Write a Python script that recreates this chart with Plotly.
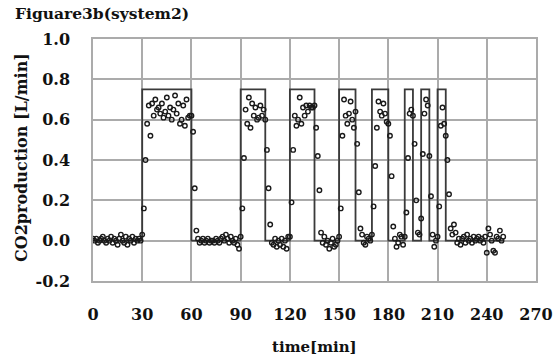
import plotly.graph_objects as go

# Measured CO2 production (time in min, value in L/min)
time_min = list(range(0, 251))
co2_values = [
    # 0-29 baseline
    0.01, 0.00, 0.01, -0.01, 0.00, 0.01, 0.02, 0.00, -0.01, 0.01,
    0.00, 0.02, -0.01, 0.01, 0.00, -0.02, 0.01, 0.03, 0.00, -0.01,
    0.02, -0.02, 0.01, 0.00, 0.02, -0.01, 0.01, 0.00, 0.01, 0.00,
    # 30-63 pulse 1
    0.03, 0.16, 0.40, 0.58, 0.67, 0.52, 0.68, 0.62, 0.70, 0.65,
    0.66, 0.63, 0.68, 0.61, 0.64, 0.71, 0.62, 0.66, 0.60, 0.65,
    0.72, 0.63, 0.68, 0.58, 0.60, 0.67, 0.57, 0.70, 0.61, 0.62,
    0.62, 0.54, 0.26, 0.05,
    # 64-89 baseline
    0.01, -0.01, 0.00, 0.01, -0.01, 0.00, 0.01, -0.01, 0.00, 0.00,
    -0.01, 0.01, 0.00, -0.01, 0.01, 0.02, 0.00, 0.03, 0.01, -0.01,
    0.02, 0.00, -0.01, 0.01, -0.02, -0.04,
    # 90-108 pulse 2
    0.02, 0.16, 0.41, 0.65, 0.58, 0.71, 0.56, 0.68, 0.62, 0.66,
    0.60, 0.61, 0.67, 0.62, 0.65, 0.60, 0.45, 0.26, 0.08,
    # 109-119 baseline
    -0.01, -0.02, 0.01, -0.03, 0.00, -0.02, 0.01, -0.03, 0.00, -0.04, 0.02,
    # 120-139 pulse 3
    0.02, 0.19, 0.45, 0.62, 0.57, 0.60, 0.71, 0.58, 0.66, 0.62,
    0.67, 0.64, 0.67, 0.66, 0.66, 0.67, 0.56, 0.42, 0.25, 0.04,
    # 140-149 baseline
    -0.01, 0.02, -0.02, 0.00, -0.04, -0.01, 0.01, -0.03, -0.02, 0.00,
    # 150-163 pulse 4
    0.02, 0.16, 0.52, 0.70, 0.62, 0.58, 0.63, 0.69, 0.60, 0.56,
    0.64, 0.48, 0.24, 0.06,
    # 164-169 baseline
    0.03, -0.01, -0.02, 0.02, 0.01, 0.00,
    # 170-183 pulse 5
    0.03, 0.17, 0.37, 0.56, 0.69, 0.64, 0.62, 0.68, 0.63, 0.59,
    0.58, 0.52, 0.32, 0.07,
    # 184-189 baseline
    0.01, -0.03, -0.01, 0.03, 0.02, -0.02,
    # 190-199 pulse 6
    0.02, 0.14, 0.41, 0.63, 0.65, 0.62, 0.48, 0.20, 0.04, 0.03,
    # 200-209 pulse 7
    0.11, 0.43, 0.63, 0.70, 0.67, 0.42, 0.22, 0.03, -0.03, 0.00,
    # 210-219 pulse 8
    0.02, 0.17, 0.57, 0.66, 0.58, 0.52, 0.40, 0.23, 0.06, 0.03,
    # 220-250 baseline
    0.08, 0.04, -0.01, 0.01, -0.02, 0.01, 0.02, -0.01, 0.03, 0.00,
    0.01, -0.01, 0.02, 0.00, 0.01, 0.02, 0.00, 0.01, -0.01, 0.02,
    -0.06, 0.06, 0.03, 0.00, -0.05, -0.06, 0.02, 0.01, 0.05, 0.00, 0.02,
]

# Feed pulse schedule (square wave)
pulse_start = [30, 90, 120, 150, 170, 190, 200, 210]
pulse_end = [60, 105, 135, 160, 180, 195, 205, 215]
pulse_level = 0.75
schedule_start = 0
schedule_end = 250

x_ticks = [0, 30, 60, 90, 120, 150, 180, 210, 240, 270]
y_ticks = [-0.2, 0.0, 0.2, 0.4, 0.6, 0.8, 1.0]

# build step trace
sx = [schedule_start]
sy = [0.0]
for s, e in zip(pulse_start, pulse_end):
    sx += [s, s, e, e]
    sy += [0.0, pulse_level, pulse_level, 0.0]
sx.append(schedule_end)
sy.append(0.0)

FONT = "DejaVu Serif"
GRID = "#ababab"

fig = go.Figure()
fig.add_trace(go.Scatter(x=sx, y=sy, mode="lines",
                         line=dict(color="#3a3a3a", width=1.8),
                         showlegend=False, hoverinfo="skip"))
fig.add_trace(go.Scatter(x=time_min, y=co2_values, mode="markers",
                         marker=dict(symbol="circle-open", size=4.5,
                                     color="#1a1a1a", line=dict(width=1.4)),
                         showlegend=False))

fig.update_layout(
    width=554, height=359,
    margin=dict(l=93, r=18, t=39, b=78),
    paper_bgcolor="white", plot_bgcolor="white",
    font=dict(family=FONT, size=16, color="#111111"),
    title=dict(text="<b>Figuare3b(system2)</b>", x=15/554, xanchor="left",
               y=1-14/359, yanchor="middle",
               font=dict(family=FONT, size=15.5, color="#111111")),
    xaxis=dict(range=[0, 270], tickvals=x_ticks,
               ticktext=[f"<b>{v}</b>" for v in x_ticks],
               showgrid=True, gridcolor=GRID, gridwidth=1.5,
               showline=True, linecolor=GRID, linewidth=1.5, mirror=True,
               zeroline=False, ticks="", ticklabelstandoff=18,
               automargin=False,
               tickfont=dict(family=FONT, size=16)),
    yaxis=dict(range=[-0.2, 1.0], tickvals=y_ticks,
               ticktext=[f"<b>{v:.1f}</b>" for v in y_ticks],
               showgrid=True, gridcolor=GRID, gridwidth=1.5,
               showline=True, linecolor=GRID, linewidth=1.5, mirror=True,
               zeroline=False, ticks="", ticklabelstandoff=18,
               automargin=False,
               tickfont=dict(family=FONT, size=16)),
    annotations=[
        dict(text="<b>time[min]</b>", xref="paper", yref="paper",
             x=0.5, y=-(347-281)/242, xanchor="center", yanchor="middle",
             showarrow=False, font=dict(family=FONT, size=15)),
        dict(text="<b>CO2production [L/min]</b>", xref="paper", yref="paper",
             x=(21-93)/443, y=0.5 + (160-158)/242, xanchor="center", yanchor="middle",
             textangle=-90, showarrow=False, font=dict(family=FONT, size=16)),
    ],
)

fig.write_html("out.html",
               config={"displayModeBar": False},
               post_script="document.body.style.margin='0';document.body.style.overflow='hidden';")
